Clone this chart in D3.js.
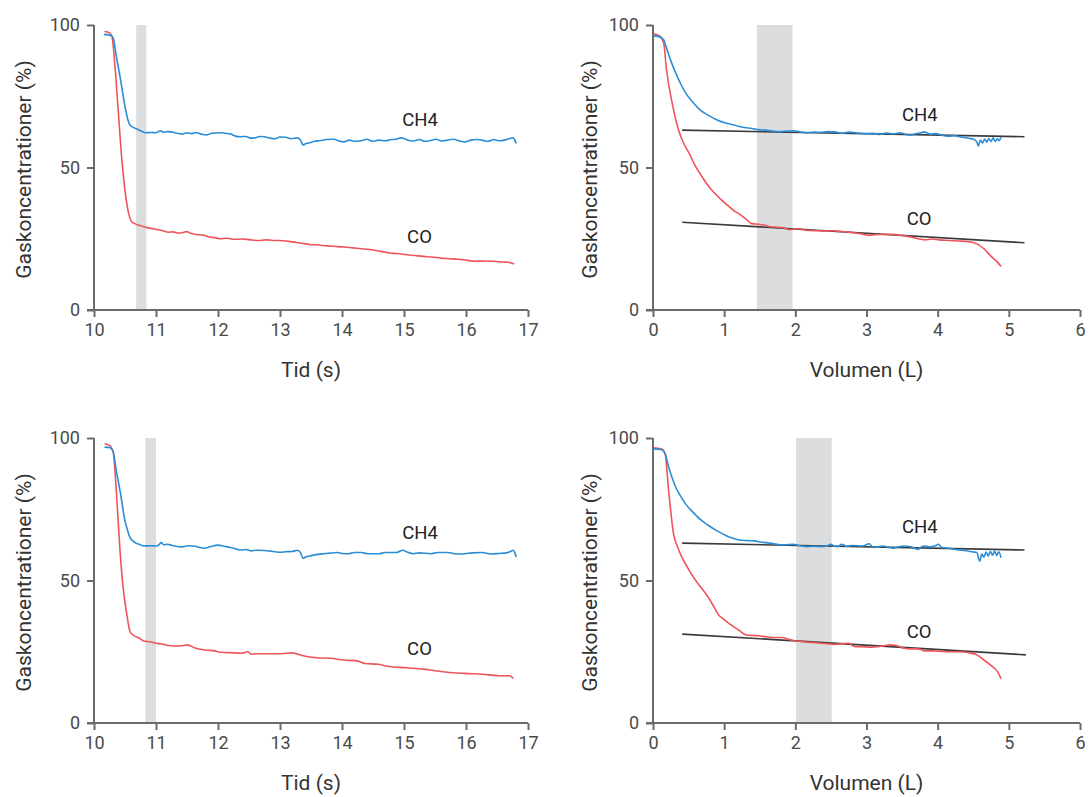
<!DOCTYPE html>
<html><head><meta charset="utf-8">
<script src="https://cdn.jsdelivr.net/npm/d3@7"></script>
<style>
html,body{margin:0;padding:0;background:#fff;}
svg{display:block;font-family:Roboto,"Noto Sans",sans-serif;}
</style></head>
<body><svg id="chart" width="1088" height="797"></svg>
<script>
// ---------- DATA ----------
const yTicks = [0, 50, 100];
const timeTicks = [10, 11, 12, 13, 14, 15, 16, 17];
const volTicks = [0, 1, 2, 3, 4, 5, 6];
const yLabel = "Gaskoncentrationer (%)";
const timeLabel = "Tid (s)";
const volLabel = "Volumen (L)";
const seriesNames = ["CH4", "CO"];

// Panel A (top left): time
const a_ch4 = [[10.16,96.7],[10.28,96.2],[10.31,95.4],[10.36,89],[10.42,81.9],[10.5,71.4],[10.55,66.5],[10.58,64.9],[10.64,64.0],[10.70,63.4],[10.78,62.6],[10.83,62.2],[10.92,62.3],[11.0,62.2],[11.04,62.6],[11.08,62.9],[11.12,62.3],[11.18,62.6],[11.25,62.5],[11.32,62.1],[11.42,61.7],[11.5,62.2],[11.58,61.9],[11.64,62.3],[11.72,61.8],[11.81,61.4],[11.9,62.0],[12.03,62.2],[12.12,62.0],[12.2,61.8],[12.28,61.0],[12.37,60.8],[12.45,60.9],[12.52,60.3],[12.59,60.4],[12.68,60.9],[12.75,60.8],[12.84,60.3],[12.92,60.1],[13.0,60.7],[13.09,60.6],[13.18,60.1],[13.28,60.4],[13.33,59.6],[13.37,57.9],[13.42,58.4],[13.48,58.7],[13.56,59.2],[13.64,59.4],[13.75,59.8],[13.87,59.9],[13.95,59.3],[14.03,59.0],[14.12,59.6],[14.2,59.2],[14.31,59.4],[14.4,59.9],[14.5,59.2],[14.59,59.6],[14.7,59.4],[14.8,59.8],[14.87,59.9],[14.95,60.4],[15.0,60.2],[15.08,59.5],[15.15,59.3],[15.25,59.8],[15.34,59.2],[15.43,59.5],[15.52,59.9],[15.6,59.3],[15.7,59.6],[15.8,59.9],[15.9,59.3],[15.98,59.0],[16.08,59.6],[16.18,59.8],[16.26,59.6],[16.35,59.2],[16.45,59.8],[16.54,59.4],[16.62,59.6],[16.71,60.2],[16.76,60.4],[16.79,59.5],[16.81,58.4]];
const a_co = [[10.17,97.7],[10.22,97.5],[10.25,97.2],[10.29,96.0],[10.33,87.8],[10.39,70.2],[10.45,52.6],[10.5,42.0],[10.56,33.8],[10.61,30.9],[10.66,30.3],[10.7,29.9],[10.78,29.4],[10.86,28.9],[10.95,28.5],[11.03,28.2],[11.1,27.9],[11.2,27.3],[11.28,27.4],[11.36,27.0],[11.44,27.2],[11.5,27.5],[11.56,26.9],[11.64,26.5],[11.75,26.3],[11.86,25.6],[11.95,25.4],[12.03,25.0],[12.15,25.2],[12.25,24.8],[12.37,24.9],[12.5,24.7],[12.64,24.4],[12.78,24.6],[12.92,24.4],[13.05,24.3],[13.2,23.9],[13.35,23.4],[13.48,23.0],[13.62,22.8],[13.76,22.5],[13.9,22.3],[14.03,22.1],[14.17,21.8],[14.31,21.5],[14.45,21.2],[14.59,20.7],[14.7,20.3],[14.76,20.0],[14.9,19.8],[15.04,19.4],[15.18,19.1],[15.31,18.8],[15.45,18.6],[15.59,18.2],[15.73,18.0],[15.87,17.8],[16.0,17.5],[16.15,17.1],[16.3,17.2],[16.43,17.1],[16.55,16.9],[16.65,16.8],[16.72,16.6],[16.78,16.1]];
const a_band = [10.68, 10.845];

// Panel B (top right): volume
const b_ch4 = [[0.0,96.2],[0.07,96.0],[0.15,94.8],[0.19,91.9],[0.25,87.5],[0.32,83.1],[0.39,79.3],[0.46,76.1],[0.56,72.9],[0.66,70.2],[0.78,68.3],[0.9,66.7],[1.02,65.6],[1.14,64.9],[1.26,64.1],[1.39,63.7],[1.48,63.3],[1.58,63.1],[1.68,62.8],[1.78,62.6],[1.88,62.8],[1.97,62.9],[2.06,62.5],[2.16,62.2],[2.26,62.4],[2.36,62.3],[2.45,62.6],[2.55,62.5],[2.65,62.0],[2.75,62.4],[2.85,62.2],[2.95,61.9],[3.09,62.0],[3.18,61.6],[3.28,62.1],[3.38,61.8],[3.48,62.2],[3.55,61.6],[3.62,61.4],[3.72,62.0],[3.82,62.4],[3.9,61.7],[3.98,61.9],[4.06,61.3],[4.16,61.0],[4.23,61.2],[4.3,60.8],[4.38,60.5],[4.45,60.2],[4.5,60.0],[4.55,59.0],[4.57,57.5],[4.6,59.6],[4.63,58.6],[4.66,60.0],[4.69,58.9],[4.72,60.2],[4.75,59.1],[4.78,60.4],[4.81,59.2],[4.84,60.1],[4.86,59.4],[4.89,60.6]];
const b_co = [[0.0,96.9],[0.1,96.0],[0.15,93.7],[0.19,84.3],[0.27,72.5],[0.36,63.1],[0.43,58.5],[0.51,54.9],[0.58,51.2],[0.66,47.9],[0.75,44.5],[0.85,41.4],[0.95,38.9],[1.05,36.7],[1.14,34.8],[1.24,33.2],[1.31,31.8],[1.39,30.3],[1.48,30.1],[1.56,29.8],[1.63,29.3],[1.72,29.1],[1.82,28.9],[1.92,28.2],[2.0,28.4],[2.07,28.5],[2.14,28.0],[2.21,27.9],[2.31,27.8],[2.41,27.7],[2.52,27.8],[2.62,27.6],[2.72,27.4],[2.85,27.0],[2.95,26.6],[3.04,26.2],[3.14,26.5],[3.23,26.5],[3.33,26.6],[3.43,26.4],[3.52,26.1],[3.62,25.6],[3.72,25.0],[3.82,24.6],[3.92,24.9],[4.02,24.6],[4.16,24.4],[4.3,24.2],[4.43,24.0],[4.55,23.2],[4.65,21.5],[4.74,19.1],[4.84,16.8],[4.89,15.3]];
const b_fitCH4 = [[0.41,63.1],[5.22,60.8]];
const b_fitCO = [[0.41,30.8],[5.22,23.6]];
const b_band = [1.46, 1.96];

// Panel C (bottom left): time
const c_ch4 = [[10.17,96.8],[10.26,96.6],[10.31,95.1],[10.36,88.5],[10.42,81.5],[10.5,70.9],[10.55,67.0],[10.58,65.1],[10.66,63.3],[10.74,62.6],[10.8,62.1],[10.9,62.2],[11.0,62.1],[11.05,62.6],[11.08,63.3],[11.13,62.5],[11.18,62.7],[11.25,62.4],[11.32,62.0],[11.42,61.8],[11.52,62.2],[11.64,62.0],[11.7,61.6],[11.78,61.3],[11.88,61.9],[12.0,62.4],[12.1,62.0],[12.2,61.6],[12.3,61.0],[12.37,60.7],[12.45,60.9],[12.54,60.4],[12.62,60.6],[12.75,60.5],[12.84,60.3],[12.92,60.1],[13.0,59.9],[13.09,60.1],[13.2,60.2],[13.28,60.6],[13.33,59.8],[13.37,57.8],[13.42,58.3],[13.48,58.6],[13.56,59.0],[13.7,59.4],[13.8,59.6],[13.92,59.8],[14.0,59.5],[14.1,59.4],[14.2,59.8],[14.31,59.8],[14.42,59.4],[14.59,59.4],[14.7,59.8],[14.87,59.8],[14.98,60.6],[15.05,60.0],[15.15,59.4],[15.25,59.7],[15.43,59.4],[15.55,59.8],[15.7,59.8],[15.85,59.3],[15.98,59.4],[16.1,59.7],[16.26,59.8],[16.4,59.3],[16.54,59.5],[16.65,59.7],[16.71,60.1],[16.76,60.6],[16.79,59.6],[16.81,58.2]];
const c_co = [[10.17,98.0],[10.25,97.4],[10.31,95.1],[10.36,81.5],[10.42,60.4],[10.47,47.4],[10.53,38.0],[10.58,32.1],[10.64,30.7],[10.72,29.9],[10.8,28.8],[10.9,28.5],[11.0,28.0],[11.1,27.7],[11.2,27.2],[11.36,27.0],[11.44,27.2],[11.5,27.4],[11.58,26.8],[11.64,26.2],[11.8,25.6],[11.95,25.3],[12.03,24.8],[12.2,24.7],[12.37,24.5],[12.45,24.8],[12.48,25.1],[12.53,24.1],[12.6,24.3],[12.81,24.3],[13.03,24.3],[13.2,24.6],[13.37,23.6],[13.59,22.9],[13.81,22.7],[14.03,22.1],[14.25,21.8],[14.37,20.9],[14.59,20.6],[14.76,19.8],[15.04,19.4],[15.31,18.9],[15.48,18.4],[15.7,17.8],[15.98,17.4],[16.26,17.1],[16.54,16.6],[16.71,16.6],[16.76,15.6]];
const c_band = [10.83, 11.0];

// Panel D (bottom right): volume
const d_ch4 = [[0.0,96.2],[0.12,95.9],[0.17,94.5],[0.22,89.8],[0.27,86.0],[0.32,82.7],[0.39,79.5],[0.46,76.8],[0.56,74.0],[0.66,71.5],[0.78,69.3],[0.9,67.4],[1.0,66.1],[1.09,65.1],[1.17,64.5],[1.24,64.1],[1.33,64.0],[1.43,63.9],[1.5,63.5],[1.58,63.3],[1.7,62.9],[1.82,62.5],[1.9,62.6],[1.97,62.7],[2.06,62.2],[2.16,61.9],[2.26,62.0],[2.36,61.9],[2.45,62.2],[2.5,62.7],[2.55,62.0],[2.6,61.9],[2.65,62.7],[2.72,62.0],[2.8,62.3],[2.94,62.1],[3.04,62.9],[3.09,61.6],[3.14,61.7],[3.23,62.1],[3.3,61.7],[3.38,61.3],[3.45,61.8],[3.53,62.1],[3.6,61.9],[3.67,61.4],[3.72,60.9],[3.77,61.8],[3.82,62.1],[3.9,61.8],[3.96,62.1],[4.01,62.7],[4.06,61.6],[4.16,61.3],[4.23,61.0],[4.3,60.7],[4.38,60.5],[4.45,60.2],[4.5,60.0],[4.55,59.8],[4.59,56.8],[4.62,59.3],[4.65,58.2],[4.68,60.0],[4.71,58.6],[4.74,60.2],[4.77,58.9],[4.8,60.3],[4.83,58.8],[4.86,60.1],[4.89,58.0]];
const d_co = [[0.0,96.6],[0.12,96.1],[0.17,94.5],[0.22,81.5],[0.29,66.2],[0.35,61.5],[0.41,58.0],[0.48,54.8],[0.56,51.5],[0.65,48.3],[0.75,45.1],[0.84,41.5],[0.92,38.0],[1.0,36.3],[1.09,34.5],[1.2,32.7],[1.31,30.9],[1.4,30.7],[1.48,30.6],[1.58,30.3],[1.68,30.0],[1.82,30.0],[1.9,29.4],[2.0,28.8],[2.08,28.6],[2.16,28.4],[2.26,28.2],[2.36,28.0],[2.45,27.8],[2.55,27.6],[2.65,27.8],[2.75,28.0],[2.8,27.2],[2.85,26.8],[2.95,26.8],[3.04,26.6],[3.14,26.8],[3.23,27.0],[3.33,27.4],[3.43,27.1],[3.53,26.2],[3.62,26.0],[3.72,26.0],[3.78,25.6],[3.82,25.3],[3.92,25.3],[4.06,25.1],[4.16,25.0],[4.26,25.0],[4.36,24.9],[4.45,24.6],[4.55,23.9],[4.65,22.1],[4.74,20.4],[4.84,18.0],[4.89,15.6]];
const d_fitCH4 = [[0.41,63.1],[5.22,60.7]];
const d_fitCO = [[0.41,31.2],[5.24,23.9]];
const d_band = [2.01, 2.51];

// label anchor positions (data coords)
const a_labels = [[15.26,66.7],[15.25,25.6]];
const b_labels = [[3.75,68.4],[3.74,32.0]];
const c_labels = [[15.26,66.8],[15.25,26.0]];
const d_labels = [[3.75,68.8],[3.74,31.9]];

// ---------- DRAW ----------
const svg = d3.select("#chart");
const COL_CH4 = "#2b8dd6", COL_CO = "#f0545b";

const panels = [
  {x0:94, x1:528, y0:310, y1:25, xd:[10,17], xt:timeTicks, xl:timeLabel, lblX:24, ch4:a_ch4, co:a_co, band:a_band, labels:a_labels},
  {x0:653, x1:1080, y0:310, y1:25, xd:[0,6], xt:volTicks, xl:volLabel, lblX:590, ch4:b_ch4, co:b_co, band:b_band, labels:b_labels, fits:[b_fitCH4,b_fitCO]},
  {x0:94, x1:528, y0:723, y1:438, xd:[10,17], xt:timeTicks, xl:timeLabel, lblX:24, ch4:c_ch4, co:c_co, band:c_band, labels:c_labels},
  {x0:653, x1:1080, y0:723, y1:438, xd:[0,6], xt:volTicks, xl:volLabel, lblX:590, ch4:d_ch4, co:d_co, band:d_band, labels:d_labels, fits:[d_fitCH4,d_fitCO]}
];

panels.forEach(p => {
  const x = d3.scaleLinear().domain(p.xd).range([p.x0, p.x1]);
  const y = d3.scaleLinear().domain([0,100]).range([p.y0, p.y1]);
  const g = svg.append("g");

  g.append("rect")
    .attr("x", x(p.band[0])).attr("width", x(p.band[1]) - x(p.band[0]))
    .attr("y", y(100)).attr("height", y(0) - y(100))
    .attr("fill", "#dcdddf");

  const line = d3.line().x(d => x(d[0])).y(d => y(d[1])).curve(d3.curveMonotoneX);

  if (p.fits) {
    p.fits.forEach(f => {
      g.append("path").attr("d", d3.line().x(d => x(d[0])).y(d => y(d[1]))(f))
        .attr("fill","none").attr("stroke","#3a3a3a").attr("stroke-width",1.6);
    });
  }
  g.append("path").attr("d", line(p.co)).attr("fill","none").attr("stroke",COL_CO).attr("stroke-width",1.6).attr("stroke-linejoin","round");
  g.append("path").attr("d", line(p.ch4)).attr("fill","none").attr("stroke",COL_CH4).attr("stroke-width",1.6).attr("stroke-linejoin","round");

  // axes
  const xa = g.append("g").attr("transform", `translate(0,${p.y0})`)
    .call(d3.axisBottom(x).tickValues(p.xt).tickSize(7).tickSizeOuter(0).tickPadding(6).tickFormat(d3.format("d")));
  const ya = g.append("g").attr("transform", `translate(${p.x0},0)`)
    .call(d3.axisLeft(y).tickValues(yTicks).tickSize(7).tickSizeOuter(0).tickPadding(7).tickFormat(d3.format("d")));
  [xa, ya].forEach(a => {
    a.select(".domain").attr("stroke","#6b6b6b").attr("stroke-width",2);
    a.selectAll(".tick line").attr("stroke","#6b6b6b").attr("stroke-width",2);
    a.selectAll(".tick text").attr("fill","#4a4a4a").style("font-size","18px").style("font-family","Roboto");
  });
  // extend x domain to meet y tick
  xa.select(".domain").attr("d", `M${p.x0-7},0H${p.x1}`);
  ya.select(".domain").attr("d", `M0,${p.y0}V${p.y1}`);

  g.append("text").attr("x", (p.x0 + p.x1)/2).attr("y", p.y0 + 67)
    .attr("text-anchor","middle").attr("fill","#333").style("font-size","21px").text(p.xl);
  g.append("text").attr("transform", `translate(${p.lblX},${(p.y0+p.y1)/2 + 2}) rotate(-90)`)
    .attr("text-anchor","middle").attr("dominant-baseline","central").attr("fill","#333").style("font-size","21px").text(yLabel);

  p.labels.forEach((l, i) => {
    g.append("text").attr("x", x(l[0])).attr("y", y(l[1]))
      .attr("text-anchor","middle").attr("dominant-baseline","central")
      .attr("fill","#222").style("font-size","18.5px").text(seriesNames[i]);
  });
});
</script>
</body></html>
